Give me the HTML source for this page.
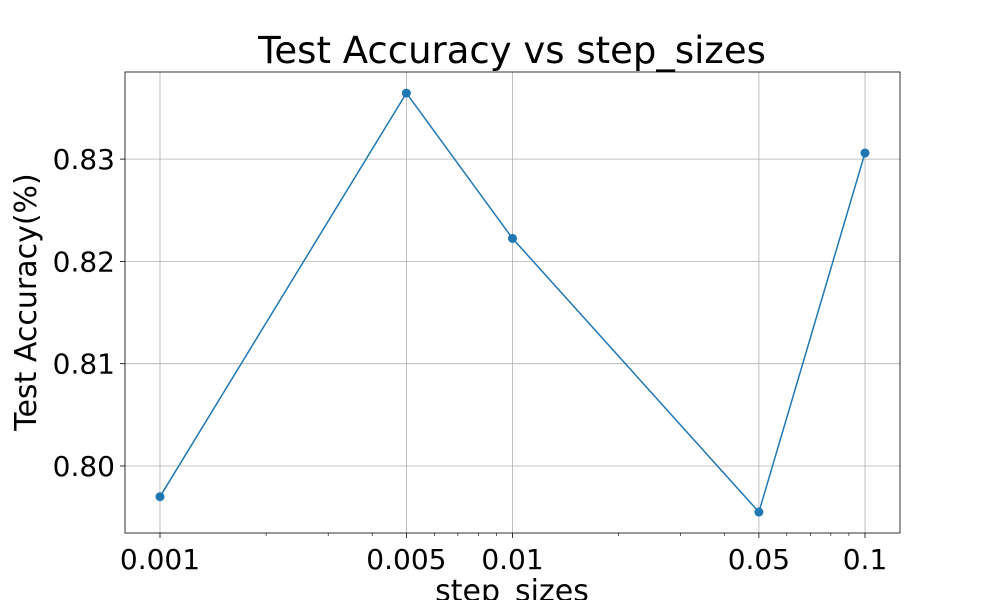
<!DOCTYPE html>
<html><head><meta charset="utf-8"><style>
body{margin:0;background:#fff;}
svg{font-family:"DejaVu Sans","Liberation Sans",sans-serif;}
</style></head><body>
<svg id="chart" width="1000" height="600" xmlns="http://www.w3.org/2000/svg">
<rect width="1000" height="600" fill="#fff"/>
<text x="512" y="63" font-size="37" text-anchor="middle">Test Accuracy vs step_sizes</text>
<g id="grid"></g>
<g id="axes"></g>
<g id="series"></g>
<text x="512" y="601" font-size="30" text-anchor="middle">step_sizes</text>
<text transform="translate(36,302) rotate(-90)" font-size="30" text-anchor="middle">Test Accuracy(%)</text>
</svg>
<script>
const categories=[0.001,0.005,0.01,0.05,0.1];
const accuracy=[0.7970,0.83645,0.82225,0.7955,0.8306];
const xTickLabels=["0.001","0.005","0.01","0.05","0.1"];
const yTicks=[0.80,0.81,0.82,0.83];
const yTickLabels=["0.80","0.81","0.82","0.83"];
const L=125,R=900,T=72,B=533;
const x=v=>160+(Math.log10(v)+3)*352.5;
const y=v=>466-(v-0.80)*10230;
const ns="http://www.w3.org/2000/svg";
function mk(tag,attrs,parent,txt){const e=document.createElementNS(ns,tag);for(const k in attrs)e.setAttribute(k,attrs[k]);if(txt!==undefined)e.textContent=txt;document.getElementById(parent).appendChild(e);return e;}
categories.forEach((c,i)=>{
 const g=mk('line',{x1:x(c),x2:x(c),y1:T,y2:B,stroke:'#b0b0b0','stroke-width':0.8},'grid');
 
 
 const t=mk('line',{x1:x(c),x2:x(c),y1:B,y2:B+5,stroke:'#000','stroke-width':0.8},'axes');
 
 
 const l=mk('text',{x:x(c),y:B+36,'font-size':28,'text-anchor':'middle'},'axes',xTickLabels[i]);
 
 
});
[0.002,0.003,0.004,0.006,0.007,0.008,0.009,0.02,0.03,0.04,0.06,0.07,0.08,0.09].forEach(m=>{
 const t=mk('line',{x1:x(m),x2:x(m),y1:B,y2:B+3,stroke:'#000','stroke-width':0.6},'axes');
 
 
});
yTicks.forEach((v,i)=>{
 const g=mk('line',{x1:L,x2:R,y1:y(v),y2:y(v),stroke:'#b0b0b0','stroke-width':0.8},'grid');
 
 
 const t=mk('line',{x1:L-5,x2:L,y1:y(v),y2:y(v),stroke:'#000','stroke-width':0.8},'axes');
 
 
 const l=mk('text',{x:L-10,y:y(v)+10,'font-size':28,'text-anchor':'end'},'axes',yTickLabels[i]);
 
 
});
const frame=mk('rect',{x:L,y:T,width:R-L,height:B-T,fill:'none',stroke:'#000','stroke-width':0.8},'axes');


const line=mk('polyline',{points:categories.map((c,i)=>x(c)+','+y(accuracy[i])).join(' '),fill:'none',stroke:'#1f77b4','stroke-width':1.5},'series');


categories.forEach((c,i)=>{
 const p=mk('circle',{cx:x(c),cy:y(accuracy[i]),r:4.5,fill:'#1f77b4'},'series');
 
 
});
</script>
</body></html>
